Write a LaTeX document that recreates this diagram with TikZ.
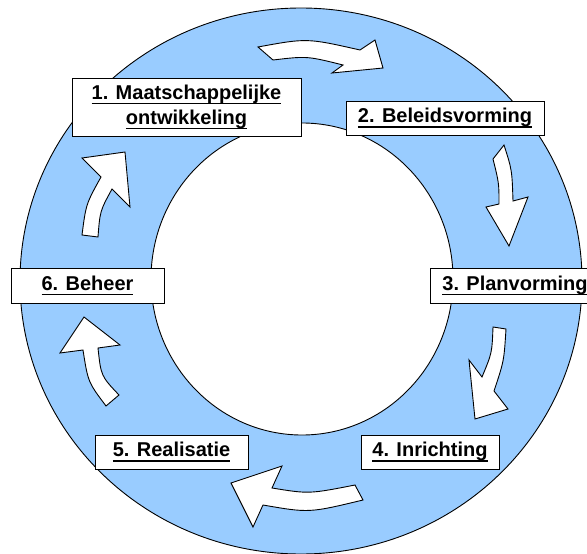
\documentclass[tikz,border=0pt]{standalone}
\usepackage{fontspec}
\setmainfont{Liberation Sans}
\usepackage{xcolor}
\definecolor{ringblue}{RGB}{153, 204, 255}
\newcommand{\stagelabel}[1]{\setbox0=\hbox{#1}\rlap{\rule[-5pt]{\wd0}{1.6pt}}\box0}

\begin{document}
\begin{tikzpicture}[
        x=1pt, y=-1pt,
        stagebox/.style={
            draw=black,
            line width=0.9pt,
            fill=white,
            inner sep=0pt,
            align=center,
            minimum height=34pt,
            font=\fontsize{20pt}{25pt}\selectfont\bfseries
        },
        blockarrow/.style={
            draw=black,
            line width=0.9pt,
            fill=white,
            line join=miter
        }
    ]

        \path[use as bounding box, clip] (0,0) rectangle (587,554);

        % ring
        \draw[fill=ringblue, line width=0.9pt] (301,281) ellipse [x radius=281, y radius=273];
        \draw[fill=white, line width=0.9pt] (302,279) ellipse [x radius=151, y radius=156];

        % block arrows round the ring
        \draw[blockarrow] (258,47) .. controls (307,38) .. (360,50) -- (375,40) -- (383,68)
            -- (332,73) -- (343,65) .. controls (307,56) .. (273,60) -- cycle;
        \draw[blockarrow] (493,159) -- (504,145) .. controls (512,170) .. (513,201) -- (528,197)
            -- (509,246) -- (486,207) -- (499,204) .. controls (499,183) .. (493,159) -- cycle;
        \draw[blockarrow] (493,327) -- (506,329) .. controls (504,361) .. (494,391) -- (508,409)
            -- (475,419) -- (469,360) -- (482,377) .. controls (492,353) .. (493,327) -- cycle;
        \draw[blockarrow] (355,485) .. controls (309,494) .. (272,488) -- (282,466) -- (231,483)
            -- (253,527) -- (263,505) .. controls (309,513) .. (363,500) -- cycle;
        \draw[blockarrow] (106,406) -- (119,395) .. controls (101,376) .. (98,348) -- (120,345)
            -- (84,317) -- (60,353) -- (83,350) .. controls (88,382) .. (106,406) -- cycle;
        \draw[blockarrow] (82,235) .. controls (86,204) .. (101,177) -- (82,158) -- (125,152)
            -- (130,207) -- (112,189) .. controls (100,211) .. (98,237) -- cycle;

        % stages
        \node (maatschappij) [
            stagebox,
            minimum width=229pt,
            minimum height=58pt
        ] at (186.5,107) {
            \stagelabel{1. Maatschappelijke}\\
            \stagelabel{ontwikkeling}
        };

        \node (beleid) [
            stagebox,
            minimum width=198pt
        ] at (445,118) {\stagelabel{2. Beleidsvorming}};

        \node (plan) [
            stagebox,
            minimum width=170pt,
            minimum height=35pt
        ] at (515,285.5) {\stagelabel{3. Planvorming}};

        \node (inrichting) [
            stagebox,
            minimum width=138pt
        ] at (430,452) {\stagelabel{4. Inrichting}};

        \node (realisatie) [
            stagebox,
            minimum width=153pt
        ] at (171.5,452) {\stagelabel{5. Realisatie}};

        \node (beheer) [
            stagebox,
            minimum width=153pt,
            minimum height=35pt
        ] at (87.5,285.5) {\stagelabel{6. Beheer}};

    \end{tikzpicture}
\end{document}
